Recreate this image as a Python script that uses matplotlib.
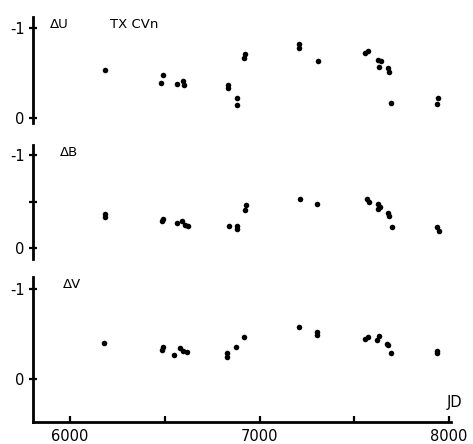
import matplotlib
matplotlib.use("Agg")
import matplotlib.pyplot as plt

# ---- data ----
jd_u = [6185, 6492, 6480, 6563, 6596, 6602, 6834, 6834, 6880, 6880, 6918, 6921,
        7210, 7210, 7307, 7557, 7571, 7624, 7640, 7631, 7676, 7682, 7694, 7944, 7937]
dU = [-0.53, -0.48, -0.39, -0.38, -0.41, -0.37, -0.37, -0.33, -0.22, -0.14, -0.66, -0.71,
      -0.82, -0.78, -0.63, -0.72, -0.74, -0.64, -0.63, -0.57, -0.55, -0.51, -0.17, -0.22, -0.16]

jd_b = [6186, 6183, 6491, 6484, 6563, 6589, 6607, 6624, 6841, 6883, 6881, 6922, 6927,
        7214, 7305, 7565, 7580, 7624, 7636, 7624, 7680, 7683, 7701, 7938, 7946]
dB = [-0.37, -0.33, -0.31, -0.29, -0.27, -0.29, -0.25, -0.24, -0.24, -0.24, -0.20, -0.41, -0.46,
      -0.53, -0.47, -0.53, -0.49, -0.47, -0.44, -0.42, -0.38, -0.34, -0.23, -0.22, -0.18]

jd_v = [6179, 6489, 6484, 6549, 6580, 6598, 6616, 6827, 6827, 6876, 6920, 7210, 7305, 7305,
        7558, 7573, 7628, 7619, 7673, 7680, 7692, 7938, 7938]
dV = [-0.40, -0.35, -0.32, -0.26, -0.34, -0.31, -0.30, -0.29, -0.24, -0.35, -0.46, -0.57, -0.52,
      -0.49, -0.44, -0.46, -0.48, -0.43, -0.39, -0.37, -0.29, -0.31, -0.29]

panel_labels = ["\u0394U", "\u0394B", "\u0394V"]
title = "TX CVn"
ytick_vals = [-1, 0]
ytick_labels = ["-1", "0"]
xtick_vals = [6000, 7000, 8000]
xtick_labels = ["6000", "7000", "8000"]
xminor_vals = [6500, 7500]

plt.rcParams['font.family'] = ['DejaVu Sans']

W, H = 473, 444
fig = plt.figure(figsize=(W / 100, H / 100), dpi=100)

left = 33 / W
width = (451 - 33) / W
xlim = (5805, 8010)

# (top_px, bottom_px, ylim_bottom, ylim_top, label_x)
panels = [
    (17, 123, 0.056, -1.12, 0.041),
    (145, 259, 0.12, -1.11, 0.065),
    (277, 422, 0.48, -1.13, 0.072),
]
series = [(jd_u, dU), (jd_b, dB), (jd_v, dV)]

axes = []
for i, ((tp, bp, yb, yt, lx), (xs, ys)) in enumerate(zip(panels, series)):
    ax = fig.add_axes([left, 1 - bp / H, width, (bp - tp) / H])
    ax.set_xlim(*xlim)
    ax.set_ylim(yb, yt)
    ax.plot(xs, ys, 'o', color='black', ms=4.0, mec='black', mew=0)
    for s in ['top', 'right']:
        ax.spines[s].set_visible(False)
    ax.spines['left'].set_linewidth(2.0)
    ax.set_yticks(ytick_vals)
    ax.set_yticklabels(ytick_labels)
    if i == 1:
        ax.set_yticks([-0.5], minor=True)
    ax.tick_params(axis='y', which='both', direction='inout', length=6, width=1.6,
                   labelsize=10.5, pad=3)
    ax.text(lx, 0.99, panel_labels[i], transform=ax.transAxes,
            fontsize=9.5, va='top', ha='left')
    if i < 2:
        ax.spines['bottom'].set_visible(False)
        ax.set_xticks([])
    else:
        ax.spines['bottom'].set_linewidth(2.0)
        ax.set_xticks(xtick_vals)
        ax.set_xticklabels(xtick_labels)
        ax.set_xticks(xminor_vals, minor=True)
        ax.tick_params(axis='x', which='both', direction='in', length=4, width=1.6,
                       labelsize=10.5, pad=5)
        ax.text(1.026, 0.08, "JD", transform=ax.transAxes, fontsize=10.5,
                ha='right', va='bottom')
    axes.append(ax)

axes[0].text(0.184, 0.99, title, transform=axes[0].transAxes, fontsize=9.5,
             va='top', ha='left')

fig.savefig("out.png", dpi=100)
